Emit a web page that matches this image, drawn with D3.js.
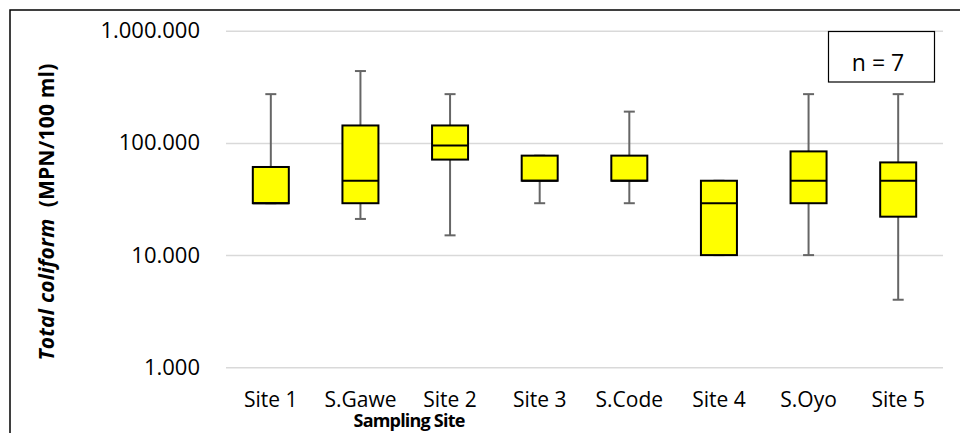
<!DOCTYPE html>
<html>
<head>
<meta charset="utf-8">
<script src="https://cdn.jsdelivr.net/npm/d3@7"></script>
<style>
  body { margin: 0; background: #fff; }
  svg { display: block; font-family: "Open Sans", sans-serif; }
</style>
</head>
<body>
<svg id="chart" width="960" height="433"></svg>
<script>
"use strict";

// site names along the x axis
const sites = ["Site 1", "S.Gawe", "Site 2", "Site 3", "S.Code", "Site 4", "S.Oyo", "Site 5"];
// five-number summaries (MPN/100 ml)
const minValues    = [29000, 21000, 15000, 29000, 29000, 10000, 10000, 4000];
const q1Values     = [29000, 29000, 71000, 46000, 46000, 10000, 29000, 22000];
const medianValues = [29000, 46000, 95000, 46000, 46000, 29000, 46000, 46000];
const q3Values     = [61000, 143000, 143000, 77000, 77000, 46000, 84000, 67000];
const maxValues    = [272000, 437000, 272000, 77000, 190000, 46000, 272000, 272000];
const yTicks = [1000, 10000, 100000, 1000000];
const sampleNote = "n = 7";

const svg = d3.select("#chart");

const size = {left: 226, right: 943, top: 30.7, bottom: 367.3};

const x = d3.scaleBand()
    .domain(sites)
    .range([size.left, size.right]);

const y = d3.scaleLog()
    .domain([1000, 1000000])
    .range([size.bottom, size.top]);

const locale = d3.formatLocale({decimal: ",", thousands: ".", grouping: [3], currency: ["", ""]});
const fmt = locale.format(",d");

// outer frame (only left and top edges fall inside the picture)
svg.append("rect")
    .attr("x", 10).attr("y", 10)
    .attr("width", 1200).attr("height", 1200)
    .attr("fill", "none")
    .attr("stroke", "#000")
    .attr("stroke-width", 1.5);

// horizontal grid
const grid = svg.append("g")
    .attr("transform", "translate(" + size.left + ",0)")
    .call(d3.axisRight(y).tickValues(yTicks).tickFormat("").tickSize(size.right - size.left));
grid.select(".domain").remove();
grid.selectAll("line").attr("stroke", "#d9d9d9").attr("stroke-width", 1.5);

// y axis labels
const yAxis = svg.append("g")
    .attr("transform", "translate(200,0)")
    .call(d3.axisLeft(y).tickValues(yTicks).tickFormat(fmt).tickSize(0).tickPadding(0));
yAxis.select(".domain").remove();
yAxis.selectAll("text")
    .attr("font-family", "Open Sans")
    .attr("font-size", 22)
    .attr("fill", "#000");

// x axis labels
const xAxis = svg.append("g")
    .attr("transform", "translate(0,392)")
    .call(d3.axisBottom(x).tickSize(0).tickPadding(0));
xAxis.select(".domain").remove();
xAxis.selectAll("text")
    .attr("font-family", "Open Sans")
    .attr("font-size", 21)
    .attr("fill", "#000");

// box plots
const rows = sites.map((s, i) => ({
    site: s, min: minValues[i], q1: q1Values[i], med: medianValues[i], q3: q3Values[i], max: maxValues[i]
}));

const boxW = 36, capW = 11;
const boxes = svg.append("g").selectAll("g")
    .data(rows)
    .join("g")
    .attr("transform", d => "translate(" + (x(d.site) + x.bandwidth() / 2) + ",0)");

boxes.append("line")
    .attr("x1", 0).attr("x2", 0)
    .attr("y1", d => y(d.max)).attr("y2", d => y(d.min))
    .attr("stroke", "#666").attr("stroke-width", 2);
boxes.append("line")
    .attr("x1", -capW / 2).attr("x2", capW / 2)
    .attr("y1", d => y(d.max)).attr("y2", d => y(d.max))
    .attr("stroke", "#666").attr("stroke-width", 2);
boxes.append("line")
    .attr("x1", -capW / 2).attr("x2", capW / 2)
    .attr("y1", d => y(d.min)).attr("y2", d => y(d.min))
    .attr("stroke", "#666").attr("stroke-width", 2);

boxes.append("rect")
    .attr("x", -boxW / 2)
    .attr("width", boxW)
    .attr("y", d => y(d.q3))
    .attr("height", d => y(d.q1) - y(d.q3))
    .attr("fill", "#ffff00")
    .attr("stroke", "#000")
    .attr("stroke-width", 2);

boxes.append("line")
    .attr("x1", -boxW / 2).attr("x2", boxW / 2)
    .attr("y1", d => y(d.med)).attr("y2", d => y(d.med))
    .attr("stroke", "#000").attr("stroke-width", 2);

// n = 7 note
svg.append("rect")
    .attr("x", 828.5).attr("y", 31.5)
    .attr("width", 106).attr("height", 50.5)
    .attr("fill", "#fff")
    .attr("stroke", "#000")
    .attr("stroke-width", 1.2);
svg.append("text")
    .attr("x", 878).attr("y", 71)
    .attr("text-anchor", "middle")
    .attr("font-size", 23)
    .text(sampleNote);

// axis titles
svg.append("text")
    .attr("x", 409).attr("y", 427)
    .attr("text-anchor", "middle")
    .attr("font-weight", "bold")
    .attr("font-size", 18)
    .attr("letter-spacing", -0.8)
    .text("Sampling Site");

const yTitle = svg.append("text")
    .attr("transform", "translate(54,212) rotate(-90)")
    .attr("text-anchor", "middle")
    .attr("font-weight", "bold")
    .attr("font-size", 21)
    .attr("letter-spacing", 0.2);
yTitle.append("tspan").attr("font-style", "italic").text("Total coliform");
yTitle.append("tspan").attr("xml:space", "preserve").text("  (MPN/100 ml)");
</script>
</body>
</html>
